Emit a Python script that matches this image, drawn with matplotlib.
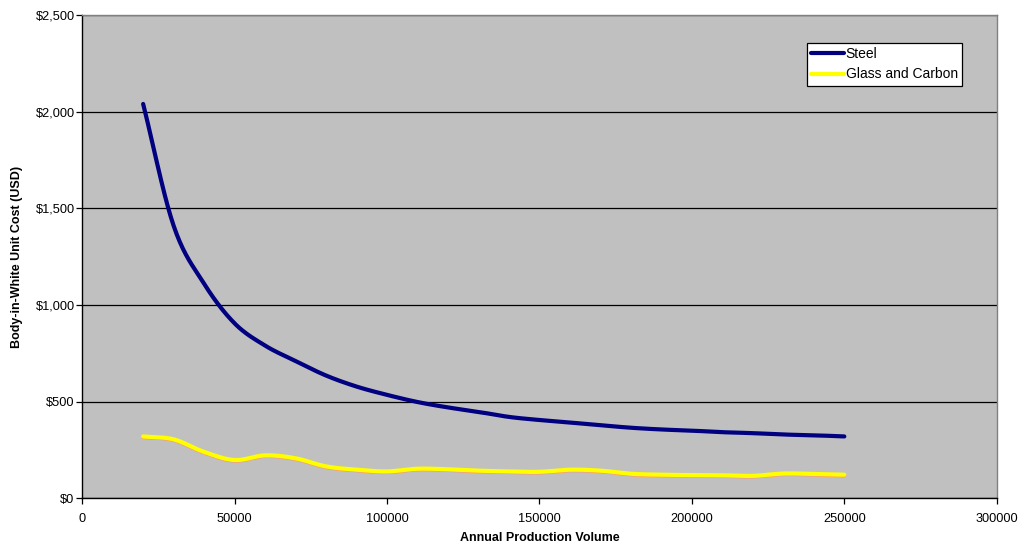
import numpy as np
import matplotlib
matplotlib.use("Agg")
import matplotlib.pyplot as plt
from matplotlib.ticker import FuncFormatter

plt.rcParams['font.family'] = ['Liberation Sans', 'DejaVu Sans']

volume = [20000, 30000, 40000, 50000, 60000, 70000, 80000, 90000, 100000, 110000,
          120000, 130000, 140000, 150000, 160000, 170000, 180000, 190000, 200000,
          210000, 220000, 230000, 240000, 250000]
steel = [2040, 1410, 1110, 905, 790, 710, 635, 578, 535, 498,
         470, 447, 421, 405, 392, 378, 365, 356, 350,
         342, 337, 330, 326, 320]
glass_carbon = [320, 305, 240, 198, 222, 207, 165, 148, 139, 153,
                150, 143, 139, 137, 148, 143, 127, 122, 120,
                119, 116, 128, 126, 122]

series_names = ["Steel", "Glass and Carbon"]
x_ticks = [0, 50000, 100000, 150000, 200000, 250000, 300000]
y_ticks = [0, 500, 1000, 1500, 2000, 2500]


def smooth(x, y, n=20):
    # Catmull-Rom rendering of a smoothed line through the data points
    x = np.asarray(x, float)
    y = np.asarray(y, float)
    px = np.concatenate([[2 * x[0] - x[1]], x, [2 * x[-1] - x[-2]]])
    py = np.concatenate([[2 * y[0] - y[1]], y, [2 * y[-1] - y[-2]]])
    xs, ys = [], []
    t = np.linspace(0, 1, n, endpoint=False)
    for i in range(1, len(px) - 2):
        for arr, out in ((px, xs), (py, ys)):
            p0, p1, p2, p3 = arr[i - 1], arr[i], arr[i + 1], arr[i + 2]
            out.extend(0.5 * ((2 * p1) + (-p0 + p2) * t +
                              (2 * p0 - 5 * p1 + 4 * p2 - p3) * t ** 2 +
                              (-p0 + 3 * p1 - 3 * p2 + p3) * t ** 3))
    xs.append(x[-1])
    ys.append(y[-1])
    return np.array(xs), np.array(ys)


fig = plt.figure(figsize=(10.22, 5.48), dpi=100)
ax = fig.add_axes([0.0804, 0.0907, 0.9753 - 0.0804, 0.9726 - 0.0907])
ax.set_facecolor('#C0C0C0')

sx, sy = smooth(volume, steel)
gx, gy = smooth(volume, glass_carbon)
ax.plot(sx, sy, color='#000080', lw=3, solid_capstyle='round', label=series_names[0], zorder=4)
ax.plot(gx, gy - 3, color='#FF9966', lw=3, solid_capstyle='round', zorder=3)
ax.plot(gx, gy, color='#FFFF00', lw=3, solid_capstyle='round', label=series_names[1], zorder=4)

ax.set_xlim(0, 300000)
ax.set_ylim(0, 2500)
ax.set_xticks(x_ticks)
ax.set_yticks(y_ticks)
ax.xaxis.set_major_formatter(FuncFormatter(lambda v, p: f"{int(v)}"))
ax.yaxis.set_major_formatter(FuncFormatter(lambda v, p: f"${int(v):,}"))
ax.grid(axis='y', color='black', lw=0.9)
ax.set_axisbelow(True)
ax.tick_params(axis='both', labelsize=9.2, direction='out', length=4, width=0.9, color='black')
ax.tick_params(axis='x', pad=6.5)
ax.tick_params(axis='y', pad=1.5)

for s in ['top', 'right']:
    ax.spines[s].set_color('#808080')
    ax.spines[s].set_linewidth(1)
for s in ['left', 'bottom']:
    ax.spines[s].set_color('black')
    ax.spines[s].set_linewidth(1)

ax.set_xlabel('Annual Production Volume', fontsize=9, fontweight='bold', labelpad=5)
ax.set_ylabel('Body-in-White Unit Cost (USD)', fontsize=9, fontweight='bold', labelpad=9)

leg = ax.legend(loc='upper right', bbox_to_anchor=(962 / 1022, (548 - 43) / 548),
                bbox_transform=fig.transFigure, fontsize=10, frameon=True, fancybox=False,
                edgecolor='black', facecolor='white', framealpha=1, borderpad=0.3,
                handlelength=2.4, handletextpad=0.1, labelspacing=0.45, borderaxespad=0)
leg.get_frame().set_linewidth(0.9)

fig.savefig('out.png', dpi=100)
